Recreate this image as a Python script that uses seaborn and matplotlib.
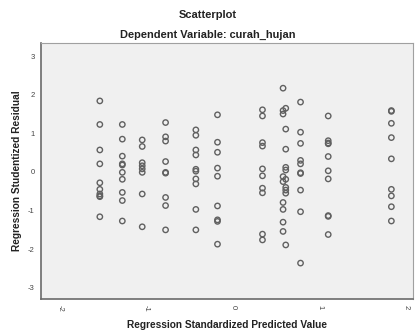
import matplotlib
matplotlib.use("Agg")
import matplotlib.pyplot as plt
import seaborn as sns
import pandas as pd

# Predicted values (columns of points) and studentized residuals per column
col_x = [-1.54, -1.28, -1.05, -0.78, -0.43, -0.18, 0.34, 0.578, 0.609, 0.78, 1.10, 1.83]
col_res = [
    [1.84, 1.23, 0.57, 0.21, -0.28, -0.45, -0.57, -0.62, -0.64, -1.16],
    [1.23, 0.85, 0.41, 0.21, 0.18, -0.01, -0.19, -0.53, -0.74, -1.27],
    [0.83, 0.66, 0.24, 0.16, 0.08, -0.01, -0.57, -1.42],
    [1.28, 0.91, 0.80, 0.27, -0.01, -0.03, -0.66, -0.87, -1.50],
    [1.09, 0.95, 0.57, 0.44, 0.07, 0.02, -0.18, -0.31, -0.97, -1.50],
    [1.48, 0.77, 0.51, 0.10, -0.11, -0.88, -1.24, -1.28, -1.87],
    [1.61, 1.45, 0.76, 0.67, 0.08, -0.10, -0.42, -0.54, -1.61, -1.76],
    [2.17, 1.59, 1.50, -0.12, -0.25, -0.79, -0.97, -1.30, -1.54],
    [1.65, 1.11, 0.59, 0.12, 0.05, -0.19, -0.40, -0.47, -0.55, -1.89],
    [1.81, 1.03, 0.74, 0.30, 0.21, -0.02, -0.04, -0.47, -1.03, -2.36],
    [1.45, 0.81, 0.75, 0.73, 0.40, 0.03, -0.18, -1.13, -1.15, -1.62],
    [1.59, 1.57, 1.26, 0.89, 0.34, -0.45, -0.62, -0.90, -1.27],
]

title = "Scatterplot"
subtitle = "Dependent Variable: curah_hujan"
xlabel = "Regression Standardized Predicted Value"
ylabel = "Regression Studentized Residual"
xticks = [-2, -1, 0, 1, 2]
yticks = [-3, -2, -1, 0, 1, 2, 3]

xs, ys = [], []
for cx, rs in zip(col_x, col_res):
    for r in rs:
        xs.append(cx)
        ys.append(r)
df = pd.DataFrame({"pred": xs, "resid": ys})

sns.set_theme(style="white")
plt.rcParams["font.family"] = ["Liberation Sans", "DejaVu Sans"]

fig = plt.figure(figsize=(4.16, 3.35), dpi=100)
ax = fig.add_axes([41/416, 1-299/335, 372/416, 256/335])
ax.set_facecolor("#f0f0f0")

sns.scatterplot(data=df, x="pred", y="resid", ax=ax, marker="o", s=15,
                facecolor="none", edgecolor="#606060", linewidth=1.0)

ax.set_xlim(-2.22, 2.08)
ax.set_ylim(-3.29, 3.34)
ax.set_xticks(xticks)
ax.set_yticks(yticks)
ax.set_xticklabels([str(t) for t in xticks], rotation=-90, fontsize=5.5, color="#444444")
ax.set_yticklabels([str(t) for t in yticks], fontsize=5.5, color="#444444")
ax.tick_params(axis="both", direction="out", length=3, width=0.8, color="#555555", pad=1.5)

for side in ["left", "bottom"]:
    ax.spines[side].set_color("#6a6a6a")
    ax.spines[side].set_linewidth(1.2)
for side in ["top", "right"]:
    ax.spines[side].set_color("#a0a0a0")
    ax.spines[side].set_linewidth(0.8)

ax.set_xlabel(xlabel, fontsize=7.3, fontweight="bold", labelpad=6, color="#222222")
ax.set_ylabel(ylabel, fontsize=7.3, fontweight="bold", labelpad=4, color="#222222")

fig.text(0.5, 1-15/335, title, ha="center", va="center", fontsize=8, fontweight="bold", color="#222222")
fig.text(0.5, 1-35/335, subtitle, ha="center", va="center", fontsize=7.9, fontweight="bold", color="#222222")

fig.savefig("out.png", dpi=100)
